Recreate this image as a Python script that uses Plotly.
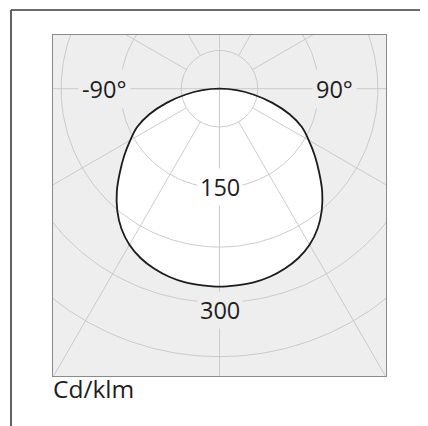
import numpy as np
import plotly.graph_objects as go

# ---- data (cd/klm) ----
ANGLES_DEG = list(range(-90, 95, 5))  # 0 = straight down, +90 = right
INTENSITY = [0, 26, 53, 83, 113, 138, 156, 176, 197, 220, 241, 259, 273, 283, 290, 295, 298, 299,
             300,
             299, 298, 295, 290, 283, 273, 259, 241, 220, 197, 176, 156, 138, 113, 83, 53, 26, 0]
RING_VALUES = [58, 150, 240, 324, 406]
SPOKE_ANGLES = [30, 60, 120, 150, -30, -60, -120, -150]
RING_LABELS = ["150", "300"]
RING_LABEL_R = [149, 335]
ANGLE_LABELS = ["-90°", "90°"]
ANGLE_LABEL_X = [-173.5, 174.2]
UNIT_LABEL = "Cd/klm"

# ---- style / layout ----
BG = "#eeeeee"
GRID = "#c6c6c6"
FONT = "Open Sans"
TXT = "#1e1e1e"
PX_PER_UNIT = 0.66
OFF = 8  # page body margin
W, H = 428, 426
PLOT_X0, PLOT_Y0, PLOT_W, PLOT_H = 53, 35, 333, 341  # target position in the screenshot
L, T = PLOT_X0 - OFF, PLOT_Y0 - OFF
R, B = W - L - PLOT_W, H - T - PLOT_H
cx_px, cy_px = 219.5 - PLOT_X0, 88.7 - PLOT_Y0  # centre inside plot area


def to_xy(r, deg):
    t = np.radians(np.asarray(deg, dtype=float))
    r = np.asarray(r, dtype=float)
    return r * np.sin(t), -r * np.cos(t)


fig = go.Figure()

# white fill of the distribution
x_c, y_c = to_xy(INTENSITY, ANGLES_DEG)
fig.add_trace(go.Scatter(x=x_c, y=y_c, mode="lines", fill="toself", fillcolor="white",
                         line=dict(width=0, shape="spline"), hoverinfo="skip"))

# grid rings
ring_t = np.linspace(0, 360, 361)
for rv in RING_VALUES:
    gx, gy = to_xy(np.full_like(ring_t, rv), ring_t)
    fig.add_trace(go.Scatter(x=gx, y=gy, mode="lines", line=dict(color=GRID, width=0.9),
                             hoverinfo="skip"))

# spokes (start at first ring)
for a in SPOKE_ANGLES:
    sx, sy = to_xy([RING_VALUES[0], 900], [a, a])
    fig.add_trace(go.Scatter(x=sx, y=sy, mode="lines", line=dict(color=GRID, width=0.9),
                             hoverinfo="skip"))
# full axes through centre
fig.add_trace(go.Scatter(x=[0, 0], y=[-900, 900], mode="lines", line=dict(color=GRID, width=0.9),
                         hoverinfo="skip"))
fig.add_trace(go.Scatter(x=[-900, 900], y=[0, 0], mode="lines", line=dict(color=GRID, width=0.9),
                         hoverinfo="skip"))

# distribution outline
fig.add_trace(go.Scatter(x=x_c, y=y_c, mode="lines",
                         line=dict(color="#1c1c1c", width=1.8, shape="spline"), hoverinfo="skip"))

annotations = []
for txt, xv in zip(ANGLE_LABELS, ANGLE_LABEL_X):
    annotations.append(dict(x=xv, y=0, xref="x", yref="y", text=txt, showarrow=False,
                            font=dict(family=FONT, size=23.5, color=TXT), bgcolor=BG, borderpad=3))
for txt, rv, bgc in zip(RING_LABELS, RING_LABEL_R, ["white", BG]):
    annotations.append(dict(x=0, y=-rv, xref="x", yref="y", text=txt, showarrow=False,
                            font=dict(family=FONT, size=23.5, color=TXT), bgcolor=bgc, borderpad=2))
annotations.append(dict(x=(51 - PLOT_X0) / PLOT_W, y=(PLOT_Y0 + PLOT_H - 388) / PLOT_H,
                        xref="paper", yref="paper",
                        text=UNIT_LABEL, showarrow=False, xanchor="left", yanchor="middle",
                        font=dict(family=FONT, size=24.5, color=TXT)))

fx = (11 - PLOT_X0) / PLOT_W
fy = (PLOT_Y0 + PLOT_H - 10) / PLOT_H
shapes = [
    dict(type="line", xref="paper", yref="paper", x0=fx, x1=fx, y0=fy, y1=-0.3,
         line=dict(color="#3a3a3a", width=1.6)),
    dict(type="line", xref="paper", yref="paper", x0=fx, x1=1.3, y0=fy, y1=fy,
         line=dict(color="#3a3a3a", width=1.6)),
]

fig.update_layout(
    width=W, height=H,
    margin=dict(l=L, r=R, t=T, b=B, pad=0),
    paper_bgcolor="white", plot_bgcolor=BG,
    showlegend=False,
    annotations=annotations, shapes=shapes,
    xaxis=dict(range=[-cx_px / PX_PER_UNIT, (PLOT_W - cx_px) / PX_PER_UNIT],
               showgrid=False, zeroline=False, showticklabels=False, ticks="",
               showline=True, mirror=True, linecolor="#8a8a8a", linewidth=1, fixedrange=True),
    yaxis=dict(range=[-(PLOT_H - cy_px) / PX_PER_UNIT, cy_px / PX_PER_UNIT],
               showgrid=False, zeroline=False, showticklabels=False, ticks="",
               showline=True, mirror=True, linecolor="#8a8a8a", linewidth=1, fixedrange=True),
)

fig.write_html("out.html", config={"displayModeBar": False})
